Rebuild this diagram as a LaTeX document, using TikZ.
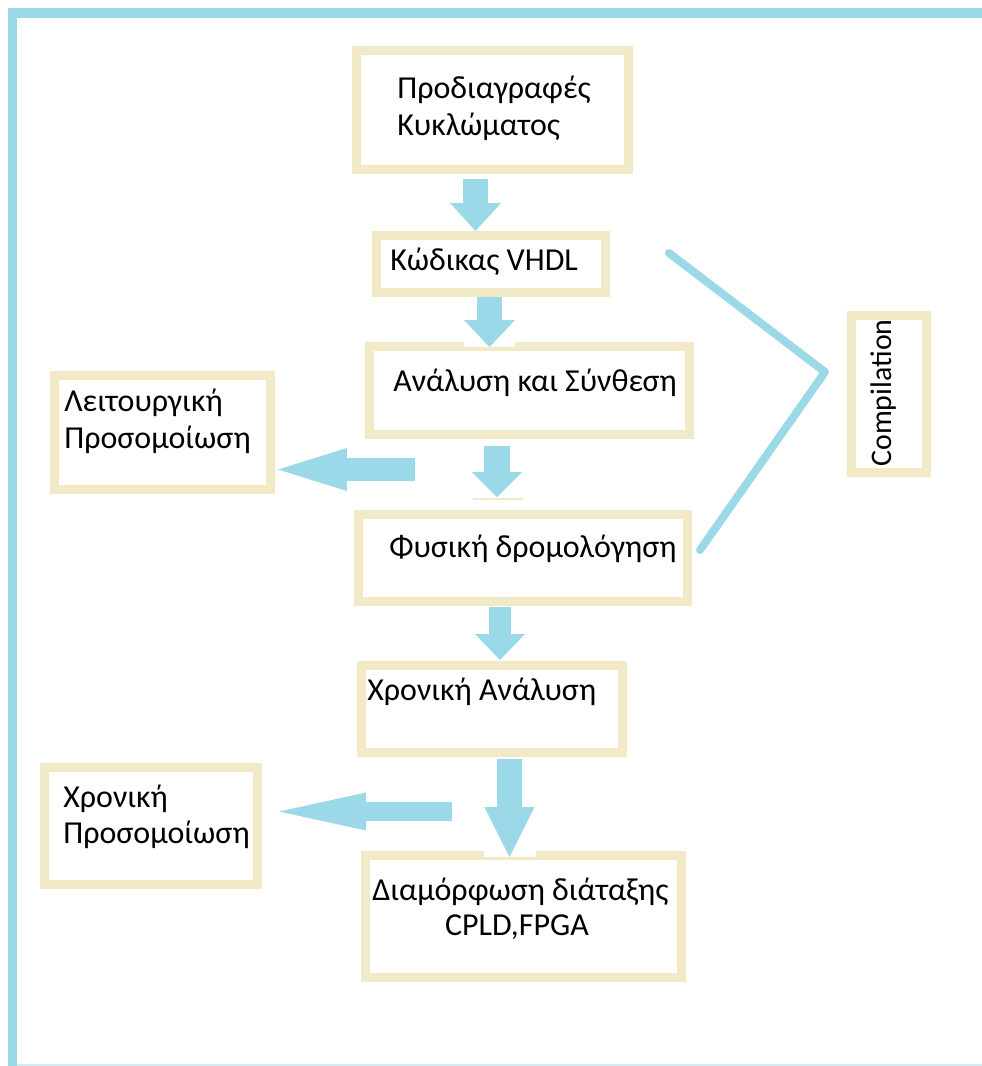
\documentclass[tikz,border=0pt]{standalone}
\usepackage{fontspec}
\setmainfont{Carlito}
\usetikzlibrary{arrows.meta,positioning}
\definecolor{skyb}{RGB}{155,216,232}
\definecolor{sand}{RGB}{242,233,198}
\tikzset{
  box/.style={draw=sand, line width=0.18cm, inner sep=0pt},
  txt/.style={font=\fontsize{18.2}{22}\selectfont, inner sep=0pt, anchor=base west},
  blk/.style n args={3}{draw=skyb, line width=#1,
    -{Triangle[width=#2,length=#3,line width=0pt]}},
}

\begin{document}
\begin{tikzpicture}[x=0.02cm,y=-0.02cm]
\useasboundingbox (0,0) rectangle (982,1066);
% frame
\draw[skyb, line width=0.2cm] (990,13) -- (12.5,13) -- (12.5,1070);
\draw[skyb!50, line width=0.04cm] (17,1064.5) -- (982,1064.5);

% boxes
\node[box, minimum width=5.44cm, minimum height=2.38cm] (spec) at (492.5,110) {};
\node[box, minimum width=4.58cm, minimum height=1.14cm] (vhdl) at (491,264) {};
\node[box, minimum width=6.4cm, minimum height=1.76cm] (synth) at (529.5,390.5) {};
\node[box, minimum width=4.32cm, minimum height=2.28cm] (funsim) at (162.5,432.5) {};
\node[box, minimum width=6.58cm, minimum height=1.74cm] (route) at (523,558) {};
\node[box, minimum width=5.22cm, minimum height=1.74cm] (timing) at (492,709) {};
\node[box, minimum width=4.26cm, minimum height=2.34cm] (timsim) at (151,826) {};
\node[box, minimum width=6.32cm, minimum height=2.44cm] (config) at (523.5,916.5) {};
\node[box, minimum width=1.5cm, minimum height=3.14cm] (comp) at (889,394) {};

% texts
\node[txt] (specA) at (397,98) {Προδιαγραφές};
\node[txt] (specB) at (397,135) {Κυκλώματος};
\node[txt] (vhdlT) at (390,270) {Κώδικας VHDL};
\node[txt] (synthT) at (393,391) {Ανάλυση και Σύνθεση};
\node[txt] (funsimA) at (64,411) {Λειτουργική};
\node[txt] (funsimB) at (64,448) {Προσομοίωση};
\node[txt] (routeT) at (389,557) {Φυσική δρομολόγηση};
\node[txt] (timingT) at (367,700) {Χρονική Ανάλυση};
\node[txt] (timsimA) at (63,807) {Χρονική};
\node[txt] (timsimB) at (63,843) {Προσομοίωση};
\node[txt, anchor=base] (configA) at (520.5,900) {Διαμόρφωση διάταξης};
\node[txt, anchor=base] (configB) at (517,935) {CPLD,FPGA};
\node[txt, font=\fontsize{17}{21}\selectfont, anchor=center, rotate=90] (compT) at (884,393) {Compilation};

% white gaps behind the arrow heads
\fill[white] (464,0 |- vhdl.south) rectangle (515,347);
\fill[white] (484,0 |- timing.south) rectangle (536,857);

% arrows
\draw[blk={0.5cm}{1.02cm}{0.56cm}, shorten <=0.1cm] (475.5,0 |- spec.south) -- (475.5,0 |- vhdl.north);
\draw[blk={0.5cm}{1.02cm}{0.54cm}, shorten >=-0.1cm] (489.5,0 |- vhdl.south) -- (489.5,0 |- synth.north);
\draw[blk={0.52cm}{1.0cm}{0.5cm}, shorten <=0.14cm, shorten >=0.26cm] (497,0 |- synth.south) -- (497,0 |- route.north);
\draw[sand, line width=0.04cm] (473,499) -- (523,499);
\draw[blk={0.44cm}{1.0cm}{0.52cm}, shorten <=0.02cm, shorten >=0.02cm] (500,0 |- route.south) -- (500,0 |- timing.north);
\draw[blk={0.5cm}{1.0cm}{1.0cm}, shorten <=0.04cm, shorten >=-0.12cm] (509.5,0 |- timing.south) -- (509.5,0 |- config.north);
\coordinate (fromL1) at (415,469.5);
\coordinate (fromL2) at (452,811.5);
\draw[blk={0.46cm}{0.86cm}{1.38cm}, shorten >=0.06cm] (fromL1) -- (funsim.east |- fromL1);
\draw[blk={0.38cm}{0.76cm}{1.74cm}, shorten >=0.34cm] (fromL2) -- (timsim.east |- fromL2);

% compilation bracket
\draw[skyb, line width=0.16cm, line cap=round, line join=round] (669,253) -- (825,372) -- (700,550);
\end{tikzpicture}
\end{document}
